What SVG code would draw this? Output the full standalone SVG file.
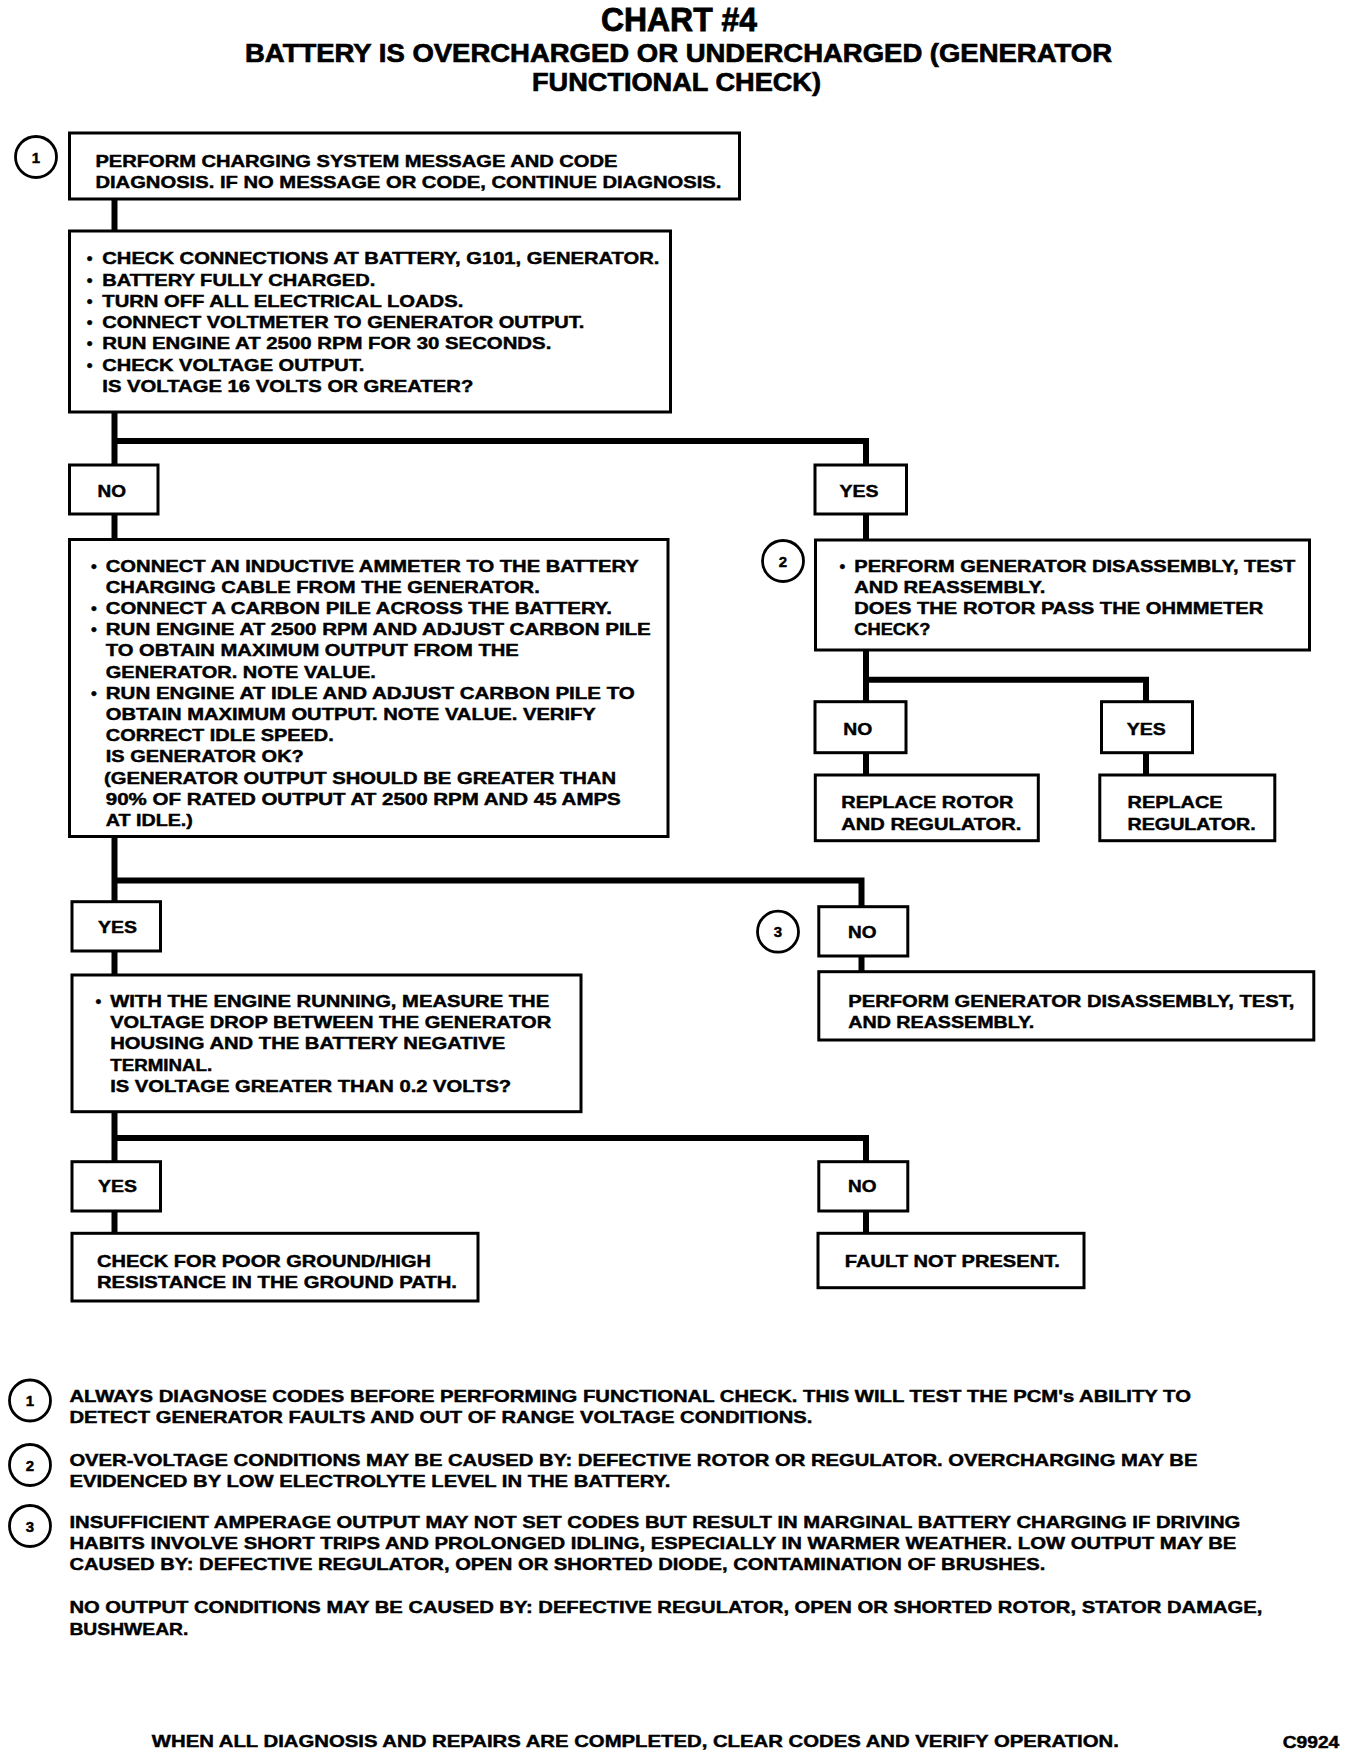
<svg xmlns="http://www.w3.org/2000/svg" width="1360" height="1758" viewBox="0 0 1360 1758">
<style>
.bg{fill:#fff}
.box{fill:#fff;stroke:#000;stroke-width:3}
.conn{fill:none;stroke:#000;stroke-width:6;stroke-linejoin:miter;stroke-linecap:butt}
.circ{fill:#fff;stroke:#000;stroke-width:2.8}
text{font-family:"Liberation Sans Narrow","Liberation Sans",Arial,sans-serif;font-weight:bold;fill:#000;stroke:#000;stroke-width:0.45}
.t{font-size:16.5px}
.lbl{font-size:17px}
.note{font-size:17px}
.num{font-size:15px;text-anchor:middle}
.h1{font-size:33px;stroke-width:0.8}
.h2{font-size:26.5px;stroke-width:0.7}
</style>
<rect class="bg" x="0" y="0" width="1360" height="1758"/>

<g id="title">
<text class="h1" x="601" y="31" textLength="156" lengthAdjust="spacingAndGlyphs">CHART #4</text>
<text class="h2" x="245" y="62" textLength="867" lengthAdjust="spacingAndGlyphs">BATTERY IS OVERCHARGED OR UNDERCHARGED (GENERATOR</text>
<text class="h2" x="532" y="90.5" textLength="289" lengthAdjust="spacingAndGlyphs">FUNCTIONAL CHECK)</text>
</g>

<g id="connectors">
<path class="conn" d="M114.5 199 V231"/>
<path class="conn" d="M114.5 412 V465 M111.5 441 H866 V465"/>
<path class="conn" d="M114.5 514 V539.5"/>
<path class="conn" d="M866 514 V540"/>
<path class="conn" d="M866 650 V701.7 M863 679.7 H1146 V701.7"/>
<path class="conn" d="M866 752.7 V775 M1146 752.7 V775"/>
<path class="conn" d="M114.5 836.5 V901.7 M111.5 880.5 H861.5 V906.7"/>
<path class="conn" d="M114.5 951 V975 M861.5 956 V971.7"/>
<path class="conn" d="M114.5 1111.7 V1161.7 M111.5 1138 H866 V1161.7"/>
<path class="conn" d="M114.5 1211 V1233.3 M866 1211 V1233.3"/>
</g>

<g id="marker1">
<circle class="circ" cx="36" cy="157" r="20.5"/>
<text class="num" x="36" y="162.5">1</text>
</g>
<g id="box1">
<rect class="box" x="69.5" y="133" width="670" height="66"/>
<text class="t" x="95.4" y="166.5" textLength="522" lengthAdjust="spacingAndGlyphs">PERFORM CHARGING SYSTEM MESSAGE AND CODE</text>
<text class="t" x="95.4" y="188" textLength="626" lengthAdjust="spacingAndGlyphs">DIAGNOSIS. IF NO MESSAGE OR CODE, CONTINUE DIAGNOSIS.</text>
</g>

<g id="box2">
<rect class="box" x="69.5" y="231" width="601" height="181"/>
<text class="t" x="86.7" y="264">•</text>
<text class="t" x="102.3" y="264" textLength="557" lengthAdjust="spacingAndGlyphs">CHECK CONNECTIONS AT BATTERY, G101, GENERATOR.</text>
<text class="t" x="86.7" y="285.5">•</text>
<text class="t" x="102.3" y="285.5" textLength="273" lengthAdjust="spacingAndGlyphs">BATTERY FULLY CHARGED.</text>
<text class="t" x="86.7" y="306.8">•</text>
<text class="t" x="102.3" y="306.8" textLength="361" lengthAdjust="spacingAndGlyphs">TURN OFF ALL ELECTRICAL LOADS.</text>
<text class="t" x="86.7" y="328">•</text>
<text class="t" x="102.3" y="328" textLength="482" lengthAdjust="spacingAndGlyphs">CONNECT VOLTMETER TO GENERATOR OUTPUT.</text>
<text class="t" x="86.7" y="349.3">•</text>
<text class="t" x="102.3" y="349.3" textLength="449" lengthAdjust="spacingAndGlyphs">RUN ENGINE AT 2500 RPM FOR 30 SECONDS.</text>
<text class="t" x="86.7" y="370.6">•</text>
<text class="t" x="102.3" y="370.6" textLength="262" lengthAdjust="spacingAndGlyphs">CHECK VOLTAGE OUTPUT.</text>
<text class="t" x="102.3" y="392" textLength="371" lengthAdjust="spacingAndGlyphs">IS VOLTAGE 16 VOLTS OR GREATER?</text>
</g>

<g id="no1">
<rect class="box" x="69.5" y="465" width="88.5" height="49"/>
<text class="lbl" x="97.5" y="496.5" textLength="28.5" lengthAdjust="spacingAndGlyphs">NO</text>
</g>
<g id="yes1">
<rect class="box" x="815" y="465" width="91.5" height="49"/>
<text class="lbl" x="839.6" y="496.5" textLength="39" lengthAdjust="spacingAndGlyphs">YES</text>
</g>

<g id="box3">
<rect class="box" x="69.5" y="539.5" width="598.5" height="297"/>
<text class="t" x="91" y="571.5">•</text>
<text class="t" x="105.8" y="571.5" textLength="533" lengthAdjust="spacingAndGlyphs">CONNECT AN INDUCTIVE AMMETER TO THE BATTERY</text>
<text class="t" x="105.8" y="592.7" textLength="434" lengthAdjust="spacingAndGlyphs">CHARGING CABLE FROM THE GENERATOR.</text>
<text class="t" x="91" y="613.9">•</text>
<text class="t" x="105.8" y="613.9" textLength="506" lengthAdjust="spacingAndGlyphs">CONNECT A CARBON PILE ACROSS THE BATTERY.</text>
<text class="t" x="91" y="635.1">•</text>
<text class="t" x="105.8" y="635.1" textLength="545" lengthAdjust="spacingAndGlyphs">RUN ENGINE AT 2500 RPM AND ADJUST CARBON PILE</text>
<text class="t" x="105.8" y="656.3" textLength="413" lengthAdjust="spacingAndGlyphs">TO OBTAIN MAXIMUM OUTPUT FROM THE</text>
<text class="t" x="105.8" y="677.5" textLength="270" lengthAdjust="spacingAndGlyphs">GENERATOR. NOTE VALUE.</text>
<text class="t" x="91" y="698.7">•</text>
<text class="t" x="105.8" y="698.7" textLength="529" lengthAdjust="spacingAndGlyphs">RUN ENGINE AT IDLE AND ADJUST CARBON PILE TO</text>
<text class="t" x="105.8" y="719.9" textLength="490" lengthAdjust="spacingAndGlyphs">OBTAIN MAXIMUM OUTPUT. NOTE VALUE. VERIFY</text>
<text class="t" x="105.8" y="741.1" textLength="228" lengthAdjust="spacingAndGlyphs">CORRECT IDLE SPEED.</text>
<text class="t" x="105.8" y="762.3" textLength="198" lengthAdjust="spacingAndGlyphs">IS GENERATOR OK?</text>
<text class="t" x="104" y="783.5" textLength="512" lengthAdjust="spacingAndGlyphs">(GENERATOR OUTPUT SHOULD BE GREATER THAN</text>
<text class="t" x="105.8" y="804.7" textLength="515" lengthAdjust="spacingAndGlyphs">90% OF RATED OUTPUT AT 2500 RPM AND 45 AMPS</text>
<text class="t" x="105.8" y="825.9" textLength="87" lengthAdjust="spacingAndGlyphs">AT IDLE.)</text>
</g>

<g id="marker2">
<circle class="circ" cx="783" cy="561" r="20.5"/>
<text class="num" x="783" y="566.5">2</text>
</g>
<g id="box4">
<rect class="box" x="815.5" y="540" width="494" height="110"/>
<text class="t" x="839.6" y="571.5">•</text>
<text class="t" x="854.3" y="571.5" textLength="441" lengthAdjust="spacingAndGlyphs">PERFORM GENERATOR DISASSEMBLY, TEST</text>
<text class="t" x="854.3" y="592.7" textLength="191" lengthAdjust="spacingAndGlyphs">AND REASSEMBLY.</text>
<text class="t" x="854.3" y="613.9" textLength="409" lengthAdjust="spacingAndGlyphs">DOES THE ROTOR PASS THE OHMMETER</text>
<text class="t" x="854.3" y="635.1" textLength="76" lengthAdjust="spacingAndGlyphs">CHECK?</text>
</g>

<g id="no2">
<rect class="box" x="815" y="701.7" width="91" height="51"/>
<text class="lbl" x="843.3" y="735" textLength="29" lengthAdjust="spacingAndGlyphs">NO</text>
</g>
<g id="yes2">
<rect class="box" x="1101.5" y="701.7" width="91" height="51"/>
<text class="lbl" x="1126.7" y="735" textLength="39" lengthAdjust="spacingAndGlyphs">YES</text>
</g>
<g id="replaceA">
<rect class="box" x="815.3" y="775" width="223" height="65.7"/>
<text class="t" x="841.3" y="808.3" textLength="172" lengthAdjust="spacingAndGlyphs">REPLACE ROTOR</text>
<text class="t" x="841.3" y="829.5" textLength="180" lengthAdjust="spacingAndGlyphs">AND REGULATOR.</text>
</g>
<g id="replaceB">
<rect class="box" x="1099.8" y="775" width="175" height="65.7"/>
<text class="t" x="1127.6" y="808.3" textLength="95" lengthAdjust="spacingAndGlyphs">REPLACE</text>
<text class="t" x="1127.6" y="829.5" textLength="128" lengthAdjust="spacingAndGlyphs">REGULATOR.</text>
</g>

<g id="yes3">
<rect class="box" x="72" y="901.7" width="88.5" height="49.3"/>
<text class="lbl" x="98" y="933.3" textLength="39" lengthAdjust="spacingAndGlyphs">YES</text>
</g>
<g id="marker3">
<circle class="circ" cx="778" cy="931.7" r="20.5"/>
<text class="num" x="778" y="937.2">3</text>
</g>
<g id="no3">
<rect class="box" x="818.8" y="906.7" width="89" height="49.3"/>
<text class="lbl" x="848" y="938.3" textLength="28.5" lengthAdjust="spacingAndGlyphs">NO</text>
</g>

<g id="box5">
<rect class="box" x="72" y="975" width="509" height="136.7"/>
<text class="t" x="95.4" y="1006.7">•</text>
<text class="t" x="110.2" y="1006.7" textLength="439" lengthAdjust="spacingAndGlyphs">WITH THE ENGINE RUNNING, MEASURE THE</text>
<text class="t" x="110.2" y="1028" textLength="441" lengthAdjust="spacingAndGlyphs">VOLTAGE DROP BETWEEN THE GENERATOR</text>
<text class="t" x="110.2" y="1049.3" textLength="395" lengthAdjust="spacingAndGlyphs">HOUSING AND THE BATTERY NEGATIVE</text>
<text class="t" x="110.2" y="1070.6" textLength="102" lengthAdjust="spacingAndGlyphs">TERMINAL.</text>
<text class="t" x="110.2" y="1091.9" textLength="401" lengthAdjust="spacingAndGlyphs">IS VOLTAGE GREATER THAN 0.2 VOLTS?</text>
</g>
<g id="box6">
<rect class="box" x="818.8" y="971.7" width="495" height="68.3"/>
<text class="t" x="848.3" y="1006.7" textLength="446" lengthAdjust="spacingAndGlyphs">PERFORM GENERATOR DISASSEMBLY, TEST,</text>
<text class="t" x="848.3" y="1028" textLength="186" lengthAdjust="spacingAndGlyphs">AND REASSEMBLY.</text>
</g>

<g id="yes4">
<rect class="box" x="72" y="1161.7" width="88.5" height="49.3"/>
<text class="lbl" x="98" y="1192.3" textLength="39" lengthAdjust="spacingAndGlyphs">YES</text>
</g>
<g id="no4">
<rect class="box" x="818.8" y="1161.7" width="89" height="49.3"/>
<text class="lbl" x="848" y="1192.3" textLength="28.5" lengthAdjust="spacingAndGlyphs">NO</text>
</g>
<g id="box7">
<rect class="box" x="72" y="1233.3" width="406" height="67.7"/>
<text class="t" x="97" y="1266.7" textLength="334" lengthAdjust="spacingAndGlyphs">CHECK FOR POOR GROUND/HIGH</text>
<text class="t" x="97" y="1288" textLength="360" lengthAdjust="spacingAndGlyphs">RESISTANCE IN THE GROUND PATH.</text>
</g>
<g id="box8">
<rect class="box" x="818" y="1233.3" width="266" height="54.4"/>
<text class="t" x="844.8" y="1266.7" textLength="215" lengthAdjust="spacingAndGlyphs">FAULT NOT PRESENT.</text>
</g>

<g id="notes">
<circle class="circ" cx="30" cy="1400.5" r="20.5"/>
<text class="num" x="30" y="1406">1</text>
<text class="note" x="69.4" y="1402.3" textLength="1121.5" lengthAdjust="spacingAndGlyphs">ALWAYS DIAGNOSE CODES BEFORE PERFORMING FUNCTIONAL CHECK. THIS WILL TEST THE PCM's ABILITY TO</text>
<text class="note" x="69.4" y="1423" textLength="743" lengthAdjust="spacingAndGlyphs">DETECT GENERATOR FAULTS AND OUT OF RANGE VOLTAGE CONDITIONS.</text>
<circle class="circ" cx="30" cy="1465" r="20.5"/>
<text class="num" x="30" y="1470.5">2</text>
<text class="note" x="69.4" y="1465.7" textLength="1128" lengthAdjust="spacingAndGlyphs">OVER-VOLTAGE CONDITIONS MAY BE CAUSED BY: DEFECTIVE ROTOR OR REGULATOR. OVERCHARGING MAY BE</text>
<text class="note" x="69.4" y="1486.7" textLength="601" lengthAdjust="spacingAndGlyphs">EVIDENCED BY LOW ELECTROLYTE LEVEL IN THE BATTERY.</text>
<circle class="circ" cx="30" cy="1526" r="20.5"/>
<text class="num" x="30" y="1531.5">3</text>
<text class="note" x="69.4" y="1528.3" textLength="1171" lengthAdjust="spacingAndGlyphs">INSUFFICIENT AMPERAGE OUTPUT MAY NOT SET CODES BUT RESULT IN MARGINAL BATTERY CHARGING IF DRIVING</text>
<text class="note" x="69.4" y="1549.3" textLength="1167" lengthAdjust="spacingAndGlyphs">HABITS INVOLVE SHORT TRIPS AND PROLONGED IDLING, ESPECIALLY IN WARMER WEATHER. LOW OUTPUT MAY BE</text>
<text class="note" x="69.4" y="1570.3" textLength="976" lengthAdjust="spacingAndGlyphs">CAUSED BY: DEFECTIVE REGULATOR, OPEN OR SHORTED DIODE, CONTAMINATION OF BRUSHES.</text>
<text class="note" x="69.4" y="1613.3" textLength="1193" lengthAdjust="spacingAndGlyphs">NO OUTPUT CONDITIONS MAY BE CAUSED BY: DEFECTIVE REGULATOR, OPEN OR SHORTED ROTOR, STATOR DAMAGE,</text>
<text class="note" x="69.4" y="1634.5" textLength="119" lengthAdjust="spacingAndGlyphs">BUSHWEAR.</text>
</g>

<g id="footer">
<text class="note" x="151.8" y="1747" textLength="967" lengthAdjust="spacingAndGlyphs">WHEN ALL DIAGNOSIS AND REPAIRS ARE COMPLETED, CLEAR CODES AND VERIFY OPERATION.</text>
<text class="note" x="1282.7" y="1748" textLength="56.6" lengthAdjust="spacingAndGlyphs">C9924</text>
</g>
</svg>
